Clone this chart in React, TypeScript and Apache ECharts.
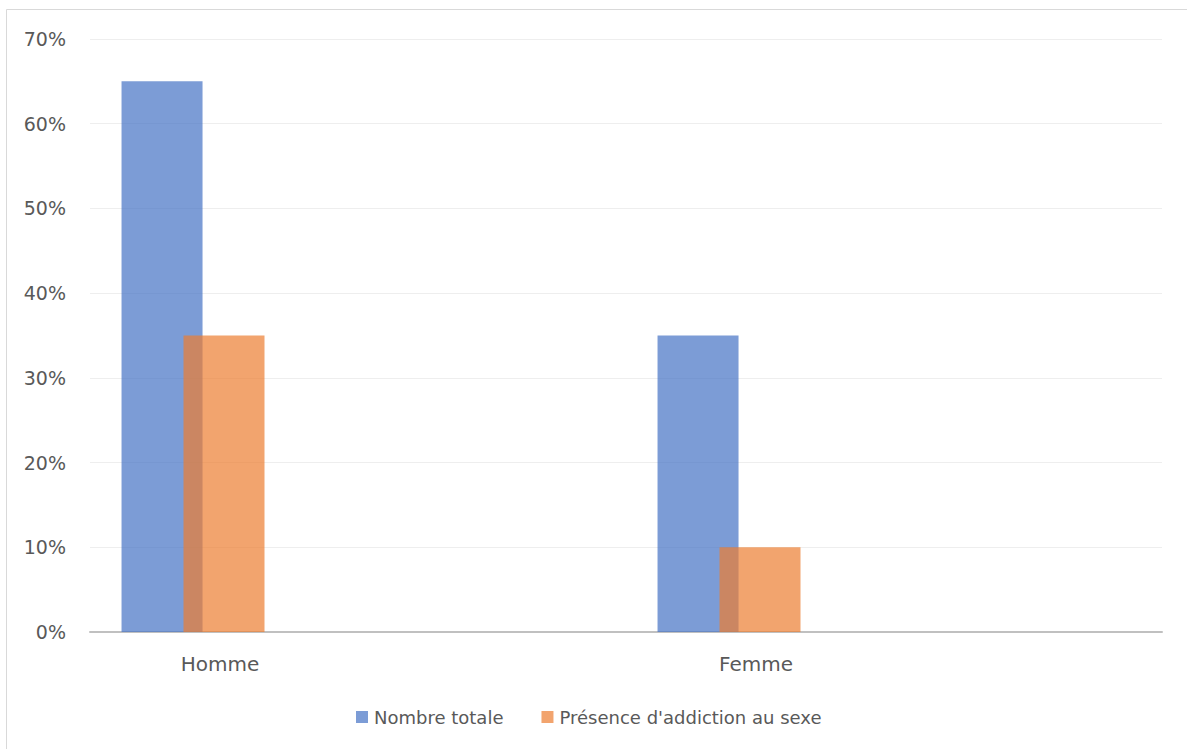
import React, { useEffect, useRef } from "react";
import * as echarts from "echarts";

// Categories along the x axis (the blank slots keep the Excel-style spacing)
const categories = ["Homme", "", "Femme", ""];
const seriesNames = ["Nombre totale", "Présence d'addiction au sexe"];
// Percentages
const nombreTotale = [65, null, 35, null];
const presenceAddiction = [35, null, 10, null];
const emptySeries = [null, null, null, null];
const yTicks = { min: 0, max: 70, interval: 10 };

const FONT = "DejaVu Sans";
const TEXT = "#595959";

export default function App() {
  const ref = useRef<HTMLDivElement>(null);

  useEffect(() => {
    if (!ref.current) return;
    const chart = echarts.init(ref.current, undefined, { renderer: "svg" });
    chart.setOption({
      animation: false,
      backgroundColor: "#ffffff",
      textStyle: { fontFamily: FONT, color: TEXT },
      graphic: [
        {
          type: "rect",
          shape: { x: 6.5, y: 9.5, width: 1400, height: 900 },
          style: { fill: "none", stroke: "#d9d9d9", lineWidth: 1 },
          silent: true,
        },
      ],
      grid: { left: 90, right: 25, top: 39, bottom: 117, containLabel: false },
      legend: {
        data: seriesNames,
        left: 351,
        top: 703,
        itemWidth: 12,
        itemHeight: 12,
        itemGap: 38,
        icon: "rect",
        textStyle: { fontFamily: FONT, fontSize: 18, color: TEXT, padding: [0, 0, 0, 1] },
      },
      xAxis: {
        type: "category",
        data: categories,
        axisLine: { lineStyle: { color: "#c0c0c0", width: 2 } },
        axisTick: { show: false },
        axisLabel: {
          interval: 0,
          margin: 22,
          padding: [0, 8, 0, 0],
          fontFamily: FONT,
          fontSize: 20,
          color: TEXT,
        },
      },
      yAxis: {
        type: "value",
        min: yTicks.min,
        max: yTicks.max,
        interval: yTicks.interval,
        axisLine: { show: false },
        axisTick: { show: false },
        axisLabel: {
          formatter: "{value}%",
          margin: 24,
          fontFamily: FONT,
          fontSize: 19,
          color: TEXT,
        },
        splitLine: { lineStyle: { color: "#eeeeee", width: 1 } },
      },
      series: [
        {
          name: seriesNames[0],
          type: "bar",
          data: nombreTotale,
          barWidth: 81,
          barGap: "-23.5%",
          itemStyle: { color: "#4472C4", opacity: 0.7 },
        },
        {
          name: seriesNames[1],
          type: "bar",
          data: presenceAddiction,
          barWidth: 81,
          barGap: "-23.5%",
          itemStyle: { color: "#ED7D31", opacity: 0.7 },
        },
        {
          name: "Série 3",
          type: "bar",
          data: emptySeries,
          barWidth: 81,
          barGap: "-23.5%",
          itemStyle: { color: "#A5A5A5", opacity: 0.7 },
        },
      ],
    });
    return () => chart.dispose();
  }, []);

  return (
    <div
      ref={ref}
      style={{ position: "fixed", left: 0, top: 0, width: 1187, height: 749 }}
    />
  );
}
